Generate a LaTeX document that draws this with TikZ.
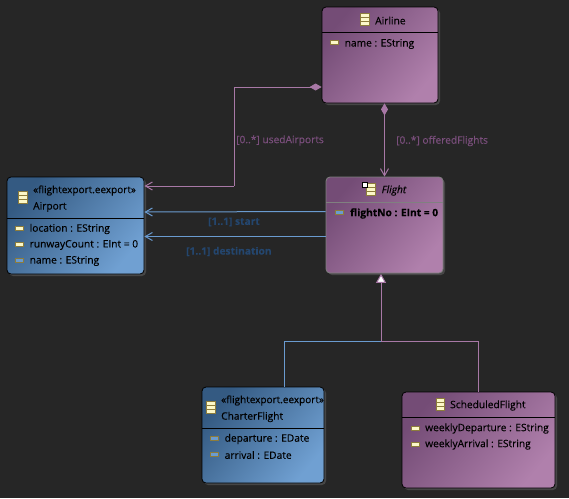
\documentclass[tikz,border=0pt]{standalone}
\usepackage{fontspec}
\setmainfont[FakeBold=0.25]{Open Sans}
\usetikzlibrary{arrows.meta,shadows,calc}
\definecolor{bgc}{HTML}{262626}
\definecolor{pinkl}{HTML}{A878A6}
\definecolor{bluel}{HTML}{6A9BD0}
\definecolor{purpd}{HTML}{744C76}
\definecolor{purpl}{HTML}{B080AC}
\definecolor{blued}{HTML}{345A82}
\definecolor{bluelt}{HTML}{70A0D2}
\definecolor{labp}{HTML}{7A4E7C}
\definecolor{labb}{HTML}{24466E}
\definecolor{iconb}{HTML}{8C7C3C}
\definecolor{iconf}{HTML}{FCF8C8}
\definecolor{shad}{HTML}{464646}
\newcommand{\classicon}[2]{%
  \fill[iconf,draw=iconb,line width=.8pt] (#1,#2) rectangle ++(8.5,12);
  \draw[iconb,line width=.8pt] (#1,#2+4) -- ++(8.5,0) (#1,#2+8) -- ++(8.5,0);}
\newcommand{\attricon}[3][iconf]{%
  \fill[#1,draw=iconb,line width=1pt] (#2,#3) rectangle ++(8,4);}
\tikzset{
  x=1pt,y=-1pt,
  box/.style={rounded corners=4pt,inner sep=0pt,draw=black,line width=.8pt,
    drop shadow={shadow xshift=2pt,shadow yshift=-2pt,fill=shad,opacity=1}},
  pbox/.style={box,left color=purpd,right color=purpl,shading angle=50},
  bbox/.style={box,left color=blued,right color=bluelt,shading angle=50},
  txt/.style={anchor=west,inner sep=0pt,font=\fontsize{10.2}{12}\selectfont,text=black},
  plabel/.style={anchor=west,inner sep=0pt,font=\fontsize{10.2}{12}\selectfont,text=labp},
  blabel/.style={anchor=west,inner sep=0pt,font=\fontsize{10.2}{12}\selectfont\bfseries,text=labb},
  barb/.style={-{Straight Barb[length=7pt,width=8pt]}},
}
\begin{document}
\begin{tikzpicture}
\useasboundingbox[fill=bgc] (0,0) rectangle (569,498);
% boxes
\node[pbox,minimum width=116pt,minimum height=96pt] (airline) at (380,55) {};
\node[bbox,minimum width=137pt,minimum height=97pt] (airport) at (75.5,225.5) {};
\node[pbox,draw=gray,minimum width=117pt,minimum height=96pt] (flight) at (384.5,225) {};
\node[bbox,minimum width=122pt,minimum height=96pt] (charter) at (263,435) {};
\node[pbox,minimum width=153pt,minimum height=96pt] (sched) at (478.5,440) {};
% compartment rules
\draw[black,line width=.8pt] (322,32.5) -- (438,32.5);
\draw[black,line width=.8pt] (7,218) -- (144,218);
\draw[gray,line width=.8pt] (326,202.5) -- (443,202.5);
\draw[black,line width=.8pt] (202,428) -- (324,428);
\draw[black,line width=.8pt] (402,417) -- (555,417);
% connectors
\coordinate (elbow) at (234,186);
\coordinate (junc) at (381,341);
\coordinate (jl) at (284,341);
\coordinate (jr) at (478,341);
\draw[pinkl,line width=1pt,{Diamond[length=12pt,width=7pt]}-] ([yshift=-32pt]airline.west) -| (elbow);
\draw[pinkl,line width=1pt,barb] (elbow) -- ([yshift=39.5pt]airport.east);
\draw[pinkl,line width=1pt,{Diamond[length=12pt,width=7pt]}-{Straight Barb[length=7pt,width=8pt]}] (flight.north |- airline.south) -- (flight.north);
\draw[bluel,line width=1pt,barb] ([yshift=13.5pt]flight.west) -- ([yshift=13.5pt]airport.east);
\draw[bluel,line width=1pt,barb] ([yshift=-11.5pt]flight.west) -- ([yshift=-11pt]airport.east);
\draw[bluel,line width=1pt] (charter.north -| jl) -- (jl) -- (junc);
\draw[pinkl,line width=1pt] (sched.north -| jr) -- (jr) -- (junc);
\draw[pinkl,line width=1pt,-{Triangle[length=9pt,width=10pt,fill=white]}] (junc) -- ([yshift=-.5pt]flight.south -| junc);
% labels
\node[plabel] (lused) at (236,140.5) {[0..*] usedAirports};
\node[plabel] (loffered) at (396,141) {[0..*] offeredFlights};
\node[blabel] (lstart) at (208,222) {[1..1] start};
\node[blabel] (ldest) at (186,251.5) {[1..1] destination};
% Airline
\classicon{360.5}{13.5}
\node[txt] (t1) at (375,20.5) {Airline};
\attricon{330.5}{40.5}
\node[txt] (t2) at (344.5,44) {name : EString};
% Airport
\classicon{18.5}{191.5}
\node[txt,font=\fontsize{10}{12}\selectfont] (t3) at (33,190.5) {«flightexport.eexport»};
\node[txt] (t4) at (33,207) {Airport};
\attricon{15.5}{226}
\attricon{15.5}{242}
\attricon[bluel]{15.5}{258}
\node[txt] (t5) at (29.5,229) {location : EString};
\node[txt] (t6) at (29.5,245) {runwayCount : EInt = 0};
\node[txt] (t7) at (29.5,261) {name : EString};
% Flight
\classicon{366.5}{183.5}
\fill[white,draw=black,line width=.8pt] (362.5,182.5) rectangle ++(5,4.5);
\node[txt,font=\fontsize{10.2}{12}\selectfont\itshape] (t8) at (381.5,190.5) {Flight};
\attricon[bluel]{335.5}{210.5}
\node[txt,font=\fontsize{10.2}{12}\selectfont\bfseries] (t9) at (350,213.5) {flightNo : EInt = 0};
% Charter
\classicon{206.5}{401.5}
\node[txt,font=\fontsize{10}{12}\selectfont] (t10) at (221,400.5) {«flightexport.eexport»};
\node[txt] (t11) at (221,417) {CharterFlight};
\attricon[bluel]{210.5}{436}
\attricon[bluel]{210.5}{452}
\node[txt] (t12) at (224.5,439) {departure : EDate};
\node[txt] (t13) at (224.5,455) {arrival : EDate};
% Scheduled
\classicon{436}{398.5}
\node[txt] (t14) at (450,405.5) {ScheduledFlight};
\attricon{411}{426}
\attricon{411}{442}
\node[txt] (t15) at (425,428.5) {weeklyDeparture : EString};
\node[txt] (t16) at (425,444.5) {weeklyArrival : EString};
\end{tikzpicture}
\end{document}
